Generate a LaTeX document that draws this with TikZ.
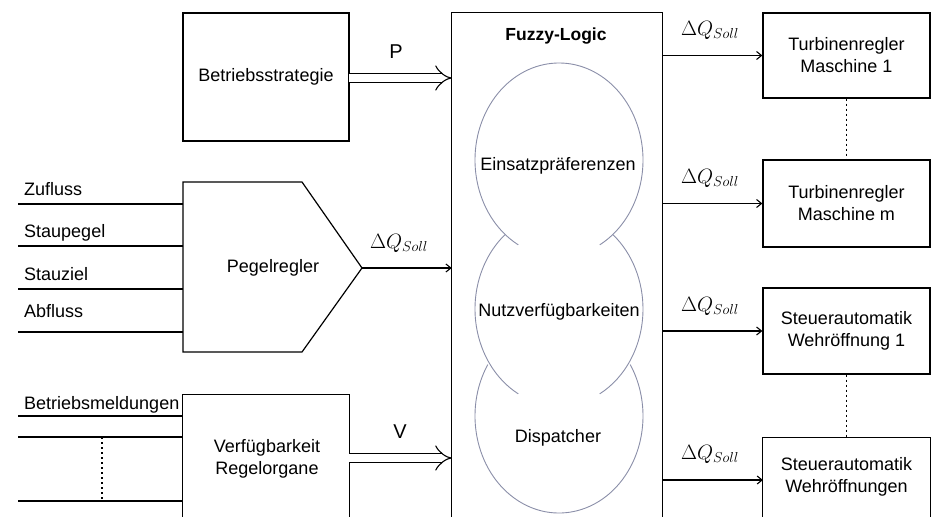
\documentclass[tikz,border=0pt]{standalone}
\usepackage{fontspec}
\setmainfont{Liberation Sans}
\usetikzlibrary{arrows.meta}
\definecolor{circcol}{HTML}{8A8EA8}
\begin{document}
\begin{tikzpicture}[x=1pt,y=-1pt,
  box/.style={draw, line width=1.2pt, inner sep=0pt},
  txt/.style={font=\fontsize{18}{22}\selectfont, align=center, inner sep=0pt},
  lbl/.style={font=\fontsize{18}{22}\selectfont, inner sep=0pt, anchor=base west},
  dq/.style={font=\fontsize{21}{24}\selectfont, inner sep=0pt, anchor=base},
  arr/.style={line width=1.1pt, -{Straight Barb[length=5pt,width=8pt]}},
  dbl/.style={double, double distance=8pt, line width=1.1pt, -{Implies}},
  circ/.style={draw=circcol, line width=0.9pt},
  dots/.style={line width=1.7pt, dash pattern=on 2.2pt off 2.8pt},
  edge/.style={line width=1.2pt}
]
\useasboundingbox (0,0) rectangle (938,517);

% Betriebsstrategie
\node[box, txt, minimum width=166pt, minimum height=128pt] (bs) at (266,77) {Betriebsstrategie};

% Fuzzy-Logic box (open at bottom)
\node[minimum width=210pt, minimum height=504pt, inner sep=0pt] (fz) at (557,265) {};
\draw[edge] (fz.south west) |- (fz.north east) -- (fz.south east);
\node[txt, font=\fontsize{17.5}{20}\selectfont\bfseries] (fztitle) at (556,36) {Fuzzy-Logic};

% circles
\draw[circ] (559,160) ++(119:84 and 97) arc[start angle=119, end angle=421, x radius=84, y radius=97];
\draw[circ] (559,309) ++(230:84 and 97) arc[start angle=230, end angle=119, x radius=84, y radius=97];
\draw[circ] (559,309) ++(61:84 and 97) arc[start angle=61, end angle=-50, x radius=84, y radius=97];
\draw[circ] (559,416) ++(212:84 and 97) arc[start angle=212, end angle=-32, x radius=84, y radius=97];
\node[txt] (ein) at (558,166) {Einsatzpräferenzen};
\node[txt] (nutz) at (559,312) {Nutzverfügbarkeiten};
\node[txt] (disp) at (558,438) {Dispatcher};

% Pegelregler
\coordinate (p1) at (183,182);
\coordinate (p2) at (302,182);
\coordinate (ptip) at (362,268);
\coordinate (p3) at (302,352);
\coordinate (p4) at (183,352);
\draw[edge] (p1) -- (p2) -- (ptip) -- (p3) -- (p4) -- cycle;
\node[txt] (peg) at (273,268) {Pegelregler};

% inputs of Pegelregler
\foreach \n/\y/\b/\t in {zu/204/195/Zufluss, sp/246/237/Staupegel, sz/289/280/Stauziel, ab/332/317/Abfluss}{
  \coordinate (\n) at (18,\y);
  \draw[edge] (\n) -- (\n -| p1);
  \node[lbl] (\n lbl) at (24,\b) {\t};
}

% Verfuegbarkeit Regelorgane (open at bottom)
\node[minimum width=166pt, minimum height=122pt, inner sep=0pt] (vr) at (266,456) {};
\draw[edge] (vr.south west) |- (vr.north east) -- (vr.south east);
\node[txt] (vrt) at (267,459) {Verfügbarkeit\\Regelorgane};

\coordinate (bm) at (18,416);
\coordinate (i2) at (18,437);
\coordinate (i3) at (18,501);
\draw[edge] (bm) -- (bm -| vr.west);
\draw[edge] (i2) -- (i2 -| vr.west);
\draw[edge] (i3) -- (i3 -| vr.west);
\node[lbl] (bmlbl) at (24,409) {Betriebsmeldungen};
\coordinate (d1) at (102,437);
\coordinate (d2) at (102,501);
\draw[dots] (d1) -- (d2);

% inputs to Fuzzy
\coordinate (pa) at (349,78);
\draw[dbl] (pa) -- (pa -| fz.west);
\node[txt, font=\fontsize{20}{22}\selectfont] (plbl) at (396,52) {P};
\draw[arr] (ptip) -- (ptip -| fz.west);
\node[dq] (dq0) at (399,248) {$\Delta Q_{Soll}$};
\coordinate (va) at (349,458);
\draw[dbl] (va) -- (va -| fz.west);
\node[txt, font=\fontsize{20}{22}\selectfont] (vlbl) at (400,432) {V};

% right boxes
\node[box, txt, minimum width=167pt, minimum height=85pt] (tr1) at (846.5,55.5) {Turbinenregler\\Maschine 1};
\node[box, txt, minimum width=167pt, minimum height=87pt] (tr2) at (846.5,203.5) {Turbinenregler\\Maschine m};
\node[box, txt, minimum width=167pt, minimum height=86pt] (st1) at (846.5,331) {Steuerautomatik\\Wehröffnung 1};
\node[minimum width=167pt, minimum height=86pt, inner sep=0pt] (st2) at (846.5,481) {};
\draw[edge] (st2.south west) |- (st2.north east) -- (st2.south east);
\node[txt] (st2t) at (846.5,477) {Steuerautomatik\\Wehröffnungen};

\draw[dots] (tr1.south) -- (tr2.north);
\draw[dots] (st1.south) -- (st2.north);

% outputs
\draw[arr] (fz.east |- tr1.west) -- (tr1.west);
\draw[arr] (fz.east |- tr2.west) -- (tr2.west);
\draw[arr] (fz.east |- st1.west) -- (st1.west);
\coordinate (o4) at (763,480);
\draw[arr] (fz.east |- o4) -- (o4);
\node[dq] (dq1) at (710,35) {$\Delta Q_{Soll}$};
\node[dq] (dq2) at (710,183) {$\Delta Q_{Soll}$};
\node[dq] (dq3) at (710,311) {$\Delta Q_{Soll}$};
\node[dq] (dq4) at (710,459) {$\Delta Q_{Soll}$};
\end{tikzpicture}
\end{document}
